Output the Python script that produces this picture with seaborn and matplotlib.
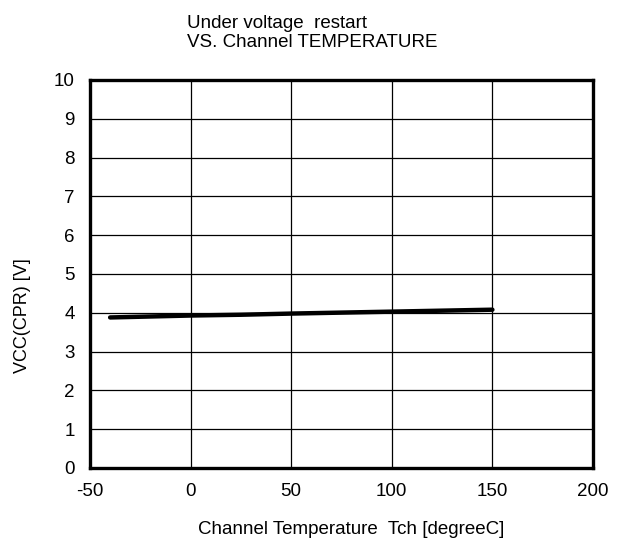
import matplotlib
matplotlib.use("Agg")
import matplotlib.pyplot as plt
import seaborn as sns
import pandas as pd

temps = [-40, 0, 25, 50, 100, 150]
vcc = [3.88, 3.93, 3.95, 3.98, 4.03, 4.08]
x_ticks = [-50, 0, 50, 100, 150, 200]
y_ticks = list(range(0, 11))
title_lines = ["Under voltage  restart", "VS. Channel TEMPERATURE"]
x_label = "Channel Temperature  Tch [degreeC]"
y_label = "VCC(CPR) [V]"

sns.set_theme(style="white")
plt.rcParams['font.family'] = ['Liberation Sans', 'DejaVu Sans']
plt.rcParams['axes.unicode_minus'] = False

W, H = 621, 543
fig = plt.figure(figsize=(W / 100, H / 100), dpi=100)
ax = fig.add_axes([90/W, 1 - 468/H, (593-90)/W, (468-80)/H])

df = pd.DataFrame({"T": temps, "V": vcc})
sns.lineplot(data=df, x="T", y="V", ax=ax, color="black", linewidth=3.2)

ax.set_xlim(-50, 200)
ax.set_ylim(0, 10)
ax.set_xticks(x_ticks)
ax.set_yticks(y_ticks)
ax.grid(True, color="black", linewidth=0.9)
ax.set_axisbelow(True)
for s in ax.spines.values():
    s.set_color("black")
    s.set_linewidth(2.4)
ax.tick_params(axis="both", length=0, labelsize=13.5, colors="black")
ax.tick_params(axis="x", pad=11)
ax.tick_params(axis="y", pad=11)
ax.set_xlabel("")
ax.set_ylabel("")

fig.text(351/W, 1 - 530/H, x_label, fontsize=13.5, ha="center", va="center", color="black")
fig.text(23/W, 1 - 316/H, y_label, fontsize=13, ha="center", va="center", rotation=90, color="black")

fig.text(187/W, 1 - 28/H, title_lines[0], fontsize=13.5, ha="left", va="baseline", color="black")
fig.text(187/W, 1 - 47/H, title_lines[1], fontsize=13.5, ha="left", va="baseline", color="black")

fig.savefig("out.png", dpi=100)
